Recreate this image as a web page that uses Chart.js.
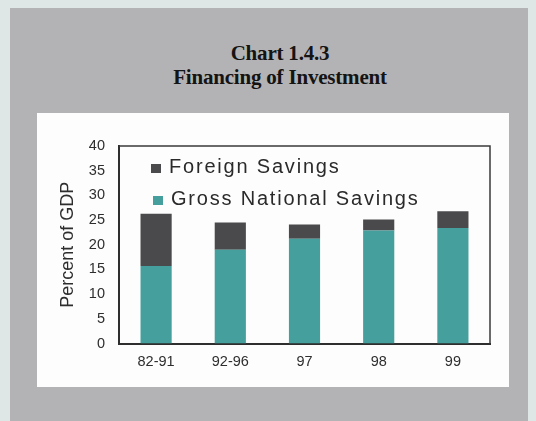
<!DOCTYPE html>
<html>
<head>
<meta charset="utf-8">
<script src="https://cdn.jsdelivr.net/npm/chart.js@4/dist/chart.umd.min.js"></script>
<style>
  html, body { margin: 0; padding: 0; }
  body { width: 536px; height: 421px; position: relative; overflow: hidden; background: #dfe6e6; }
  #frame { position: absolute; left: 10px; top: 8px; width: 518px; height: 413px; background: #b3b3b5; }
  .heading { position: absolute; left: 0; width: 560px; text-align: center; font: bold 21px "Liberation Serif", "Times New Roman", serif; color: #141414; line-height: 24px; letter-spacing: -0.2px; }
  #panel { position: absolute; left: 37px; top: 113px; width: 472px; height: 274px; background: #fdfdfd; }
  #chart { position: absolute; left: 0; top: 0; }
  .legend-row { position: absolute; font: 20px "Liberation Sans", Arial, sans-serif; line-height: 20px; letter-spacing: 1.8px; color: #2a2a2a; white-space: nowrap; }
  .legend-row i { display: inline-block; width: 10px; height: 9px; margin-right: 8px; vertical-align: baseline; }
</style>
</head>
<body>
<div id="frame"></div>
<div class="heading" style="top:41px">Chart 1.4.3</div>
<div class="heading" style="top:65px">Financing of Investment</div>
<div id="panel">
  <canvas id="chart" width="472" height="274"></canvas>
  <div id="legend"></div>
</div>
<script>
const CATEGORIES = ["82-91", "92-96", "97", "98", "99"];
const NATIONAL_SAVINGS = [15.7, 19.0, 21.2, 22.9, 23.4];
const FOREIGN_SAVINGS = [10.6, 5.5, 2.9, 2.2, 3.4];
const Y_TICKS = [0, 5, 10, 15, 20, 25, 30, 35, 40];

const TEAL = "#449f9d";
const DARK = "#4a4a4c";
const AXIS_FONT = { family: "'Liberation Sans', Arial, sans-serif", size: 14.5 };

// top and right edges of the plot box (left/bottom come from the axis borders)
const plotBox = {
  id: "plotBox",
  afterDraw(chart) {
    const { ctx, chartArea: a } = chart;
    ctx.save();
    ctx.strokeStyle = "#3a3a3a";
    ctx.lineWidth = 1.5;
    ctx.beginPath();
    ctx.moveTo(a.left, a.top);
    ctx.lineTo(a.right, a.top);
    ctx.lineTo(a.right, a.bottom);
    ctx.stroke();
    ctx.restore();
  },
};

const chart = new Chart(document.getElementById("chart"), {
  type: "bar",
  data: {
    labels: CATEGORIES,
    datasets: [
      { label: "Gross National Savings", data: NATIONAL_SAVINGS, backgroundColor: TEAL },
      { label: "Foreign Savings", data: FOREIGN_SAVINGS, backgroundColor: DARK },
    ],
  },
  options: {
    responsive: false,
    animation: false,
    layout: { padding: { left: 0, right: 19, top: 33, bottom: 13.5 } },
    datasets: { bar: { barPercentage: 0.42, categoryPercentage: 1 } },
    scales: {
      x: {
        stacked: true,
        grid: { display: false, drawTicks: false },
        border: { display: true, color: "#2e2e2e", width: 2 },
        ticks: { color: "#2e2e2e", font: AXIS_FONT, padding: 10, maxRotation: 0 },
        afterFit: s => { s.height = 30; },
      },
      y: {
        stacked: true,
        min: 0,
        max: 40,
        afterBuildTicks: s => { s.ticks = Y_TICKS.map(v => ({ value: v })); },
        grid: { display: false, drawTicks: false },
        border: { display: true, color: "#2e2e2e", width: 2 },
        ticks: { color: "#2e2e2e", font: AXIS_FONT, padding: 14 },
        title: {
          display: true,
          text: "Percent of GDP",
          color: "#2e2e2e",
          font: { family: "'Liberation Sans', Arial, sans-serif", size: 18 },
          padding: { top: 20, bottom: 0 },
        },
        afterFit: s => { s.width = 82; },
      },
    },
    plugins: { legend: { display: false }, tooltip: { enabled: false } },
  },
  plugins: [plotBox],
});

// legend sits inside the plot, foreign savings listed first
const legendTops = [156, 188];
const legendLefts = [114, 116];
document.getElementById("legend").innerHTML = chart.data.datasets.slice().reverse().map((ds, i) =>
  `<div class="legend-row" style="left:${legendLefts[i]}px;top:${legendTops[i] - 113}px"><i style="background:${ds.backgroundColor}"></i>${ds.label}</div>`
).join("");
</script>
</body>
</html>
